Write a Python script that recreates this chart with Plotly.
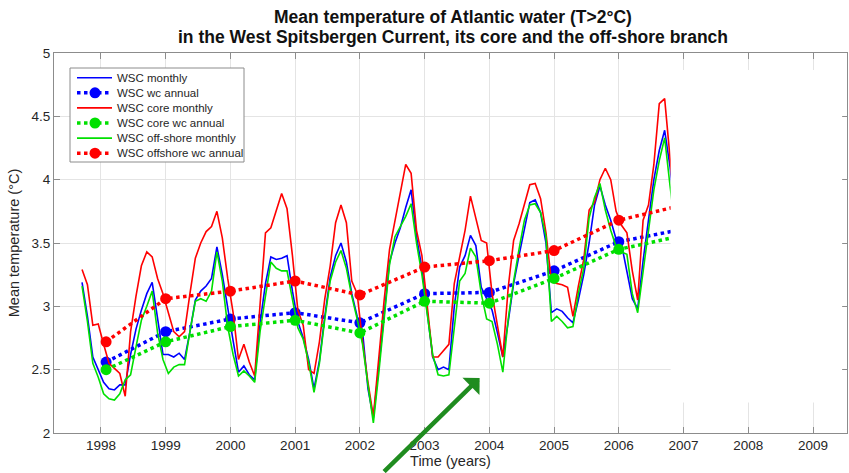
import plotly.graph_objects as go

# Monthly series start in September 1997 (mid-month decimal years)
start_year = 1997
start_month = 9

wsc_monthly = [
    3.19, 2.92, 2.60, 2.50, 2.40, 2.35, 2.34, 2.38, 2.38, 2.62, 2.82, 2.97,
    3.10, 3.19, 2.90, 2.62, 2.62, 2.60, 2.63, 2.58, 2.80, 3.05, 3.12, 3.16,
    3.22, 3.47, 3.25, 2.98, 2.73, 2.48, 2.53, 2.46, 2.42, 2.87, 3.18, 3.39,
    3.37, 3.38, 3.40, 3.12, 2.88, 2.75, 2.58, 2.35, 2.57, 2.92, 3.23, 3.40,
    3.50, 3.35, 3.10, 2.92, 2.80, 2.35, 2.12, 2.52, 2.95, 3.35, 3.50, 3.62,
    3.78, 3.92, 3.55, 3.30, 2.95, 2.60, 2.50, 2.52, 2.50, 3.00, 3.31, 3.40,
    3.56, 3.48, 3.15, 3.06, 2.97, 2.79, 2.60, 2.88, 3.18, 3.40, 3.60, 3.82,
    3.84, 3.74, 3.50, 2.95, 2.98, 2.96, 2.91, 2.87, 3.05, 3.25, 3.50, 3.80,
    3.95, 3.80, 3.68, 3.53, 3.49, 3.28, 3.06, 2.98, 3.36, 3.68, 4.00, 4.23,
    4.39, 4.10, 3.70,
]

core_monthly = [
    3.29, 3.17, 2.85, 2.86, 2.70, 2.55, 2.51, 2.47, 2.29, 2.80, 3.08, 3.32,
    3.43, 3.39, 3.22, 3.10, 2.95, 2.80, 2.76, 2.80, 3.10, 3.38, 3.50, 3.59,
    3.63, 3.75, 3.54, 3.22, 2.95, 2.58, 2.70, 2.56, 2.45, 3.05, 3.58, 3.62,
    3.75, 3.89, 3.77, 3.40, 2.97, 2.85, 2.50, 2.47, 2.72, 3.06, 3.32, 3.66,
    3.80, 3.66, 3.20, 3.10, 2.72, 2.40, 2.13, 2.60, 3.05, 3.45, 3.67, 3.89,
    4.12, 4.05, 3.60, 3.40, 3.00, 2.60, 2.60, 2.65, 2.70, 3.18, 3.40, 3.60,
    3.87, 3.70, 3.52, 3.50, 3.10, 2.85, 2.60, 3.15, 3.52, 3.65, 3.80, 3.96,
    3.97, 3.85, 3.58, 3.20, 3.18, 3.17, 3.15, 2.92, 3.16, 3.37, 3.76, 3.82,
    4.00, 4.09, 4.00, 3.75, 3.64, 3.58, 3.28, 3.05, 3.68, 3.80, 4.12, 4.60,
    4.64, 4.15, 3.70,
]

offshore_monthly = [
    3.16, 2.88, 2.55, 2.44, 2.31, 2.27, 2.26, 2.31, 2.42, 2.46, 2.68, 2.89,
    3.00, 3.12, 2.79, 2.58, 2.47, 2.52, 2.54, 2.54, 2.80, 3.04, 3.06, 3.04,
    3.12, 3.43, 3.20, 2.84, 2.62, 2.45, 2.49, 2.45, 2.40, 2.80, 3.08, 3.35,
    3.30, 3.28, 3.28, 3.05, 2.83, 2.74, 2.56, 2.32, 2.55, 2.90, 3.20, 3.35,
    3.44, 3.30, 3.08, 2.90, 2.70, 2.38, 2.08, 2.47, 2.93, 3.33, 3.55, 3.63,
    3.71, 3.81, 3.50, 3.25, 2.95, 2.62, 2.46, 2.45, 2.46, 2.85, 3.20, 3.26,
    3.46, 3.39, 3.10, 2.90, 2.88, 2.70, 2.48, 2.90, 3.20, 3.45, 3.68, 3.80,
    3.81, 3.74, 3.55, 2.88, 2.92, 2.88, 2.83, 2.84, 3.10, 3.30, 3.70, 3.86,
    3.97, 3.76, 3.60, 3.47, 3.43, 3.41, 3.10, 2.95, 3.28, 3.58, 3.92, 4.15,
    4.33, 3.95, 3.60,
]

# Water-column annual means
annual_years = [1998.08, 1999, 2000, 2001, 2002, 2003, 2004, 2005, 2006, 2007]
wsc_annual = [2.56, 2.80, 2.90, 2.95, 2.87, 3.10, 3.11, 3.28, 3.51, 3.61]
core_annual = [2.50, 2.72, 2.84, 2.89, 2.79, 3.04, 3.025, 3.22, 3.45, 3.56]
offshore_annual = [2.72, 3.06, 3.12, 3.20, 3.09, 3.31, 3.36, 3.44, 3.68, 3.80]

x_tick_years = list(range(1998, 2010))
y_tick_values = [2, 2.5, 3, 3.5, 4, 4.5, 5]
y_tick_labels = ["2", "2.5", "3", "3.5", "4", "4.5", "5"]

title_lines = [
    "Mean temperature of Atlantic water (T>2°C)",
    "in the West Spitsbergen Current, its core and the off-shore branch",
]

month_years = [start_year + (start_month - 1 + i + 0.5) / 12 for i in range(len(wsc_monthly))]

BLUE = "#0000ff"
RED = "#ff0000"
GREEN = "#00e000"
FONT = "Arial, Liberation Sans, sans-serif"
TEXT = "#262626"

# (name, y values, x values, colour, annual?)
series = [
    ("WSC monthly", wsc_monthly, month_years, BLUE, False),
    ("WSC wc annual", wsc_annual, annual_years, BLUE, True),
    ("WSC core monthly", core_monthly, month_years, RED, False),
    ("WSC core wc annual", core_annual, annual_years, GREEN, True),
    ("WSC off-shore monthly", offshore_monthly, month_years, GREEN, False),
    ("WSC offshore wc annual", offshore_annual, annual_years, RED, True),
]

fig = go.Figure()

for name, yv, xv, color, annual in series:
    if annual:
        fig.add_trace(go.Scatter(x=xv, y=yv, mode="lines+markers", name=name,
                                 line=dict(color=color, width=3.5, dash="dot"),
                                 marker=dict(color=color, size=11)))
    else:
        fig.add_trace(go.Scatter(x=xv, y=yv, mode="lines", name=name,
                                 line=dict(color=color, width=1.6)))

# blank panel over the later years
fig.add_shape(type="rect", xref="x", yref="y", x0=2006.80, x1=2009.45,
              y0=2.24, y1=4.866, fillcolor="white", line=dict(width=0),
              layer="above")

# green pointer arrow
fig.add_annotation(x=2003.85, y=2.435, xref="x", yref="y", ax=-97, ay=97,
                   axref="pixel", ayref="pixel", text="", showarrow=True,
                   arrowhead=1, arrowsize=0.9, arrowwidth=4.5,
                   arrowcolor="#1f8c1f")

# two-line bold title
for line_text, y_paper in zip(title_lines, [1.0947, 1.042]):
    fig.add_annotation(x=0.503, y=y_paper, xref="paper", yref="paper",
                       text="<b>" + line_text + "</b>", showarrow=False,
                       xanchor="center", yanchor="middle",
                       font=dict(family=FONT, size=17.5, color="#111111"))

# compact legend box (plot area spans 793 x 380 px)
PW, PH = 793.0, 380.0
def px_x(px):
    return (px - 54) / PW
def px_y(py):
    return 1 - (py - 53) / PH

fig.add_shape(type="rect", xref="paper", yref="paper",
              x0=px_x(70), x1=px_x(244), y0=px_y(162), y1=px_y(68),
              fillcolor="white", line=dict(color="#8c8c8c", width=1),
              layer="above")
row_y0, row_step = 77.7, 15.1
for i, (name, _, _, color, annual) in enumerate(series):
    ry = row_y0 + i * row_step
    fig.add_shape(type="line", xref="paper", yref="paper",
                  x0=px_x(77), x1=px_x(112), y0=px_y(ry), y1=px_y(ry),
                  line=dict(color=color, width=3.5 if annual else 1.6,
                            dash="dot" if annual else "solid"),
                  layer="above")
    if annual:
        r = 5.5
        fig.add_shape(type="circle", xref="paper", yref="paper",
                      x0=px_x(95 - r), x1=px_x(95 + r),
                      y0=px_y(ry + r), y1=px_y(ry - r),
                      fillcolor=color, line=dict(color=color, width=0),
                      layer="above")
    fig.add_annotation(x=px_x(115), y=px_y(ry), xref="paper", yref="paper",
                       text=name, showarrow=False, xanchor="left",
                       yanchor="middle",
                       font=dict(family=FONT, size=11.5, color=TEXT))

axis_common = dict(showline=True, linecolor="#8c8c8c", linewidth=1,
                   mirror="ticks", ticks="inside", ticklen=6,
                   tickcolor="#8c8c8c", showgrid=True, gridcolor="#e4e4e4",
                   gridwidth=1, zeroline=False,
                   tickfont=dict(family=FONT, size=13.5, color=TEXT))

fig.update_xaxes(range=[1997.275, 2009.525], tickvals=x_tick_years,
                 ticktext=[str(y) for y in x_tick_years],
                 title=dict(text="Time (years)", standoff=2,
                            font=dict(family=FONT, size=14.5, color=TEXT)),
                 **axis_common)
fig.update_yaxes(range=[2, 5], tickvals=y_tick_values, ticktext=y_tick_labels,
                 title=dict(text="Mean temperature (°C)", standoff=8,
                            font=dict(family=FONT, size=14.5, color=TEXT)),
                 **axis_common)

fig.update_layout(
    width=849, height=473,
    margin=dict(l=54, r=2, t=53, b=40),
    paper_bgcolor="white", plot_bgcolor="white",
    showlegend=False,
)

fig.write_html("out.html")
